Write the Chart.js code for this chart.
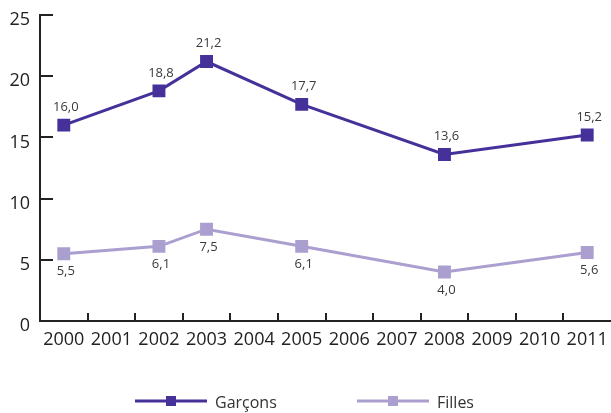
<!DOCTYPE html>
<html><head><meta charset="utf-8">
<script src="https://cdn.jsdelivr.net/npm/chart.js@4/dist/chart.umd.min.js"></script>
<style>html,body{margin:0;padding:0;background:#fff}#wrap{width:611px;height:413px}</style>
</head><body><div id="wrap"><canvas id="c" width="611" height="413"></canvas></div>
<script>
const years = ['2000','2001','2002','2003','2004','2005','2006','2007','2008','2009','2010','2011'];
const garcons = [16.0, null, 18.8, 21.2, null, 17.7, null, null, 13.6, null, null, 15.2];
const filles  = [5.5, null, 6.1, 7.5, null, 6.1, null, null, 4.0, null, null, 5.6];
const seriesNames = ['Garçons', 'Filles'];
const colors = ['#46309a', '#ab9fd0'];
const FONT = '"Open Sans", "Noto Sans", sans-serif';

const innerTicks = {
  id: 'innerTicks',
  afterDraw(chart){
    const ctx = chart.ctx, x = chart.scales.x, y = chart.scales.y, a = chart.chartArea;
    ctx.save();
    ctx.strokeStyle = '#222'; ctx.lineWidth = 2;
    y.ticks.forEach(t => {
      const py = Math.round(y.getPixelForValue(t.value));
      ctx.beginPath(); ctx.moveTo(a.left, py); ctx.lineTo(a.left + 13, py); ctx.stroke();
    });
    for (let i = 1; i < years.length; i++) {
      const px = Math.round((x.getPixelForTick(i-1) + x.getPixelForTick(i)) / 2);
      ctx.beginPath(); ctx.moveTo(px, a.bottom - 8); ctx.lineTo(px, a.bottom); ctx.stroke();
    }
    ctx.restore();
  }
};

const valueLabels = {
  id: 'valueLabels',
  afterDatasetsDraw(chart){
    const ctx = chart.ctx;
    ctx.save();
    ctx.font = '13px ' + FONT;
    ctx.fillStyle = '#3a3a3a';
    ctx.textAlign = 'center'; ctx.textBaseline = 'middle';
    chart.data.datasets.forEach((ds, di) => {
      const meta = chart.getDatasetMeta(di);
      meta.data.forEach((pt, i) => {
        const v = ds.data[i];
        if (v === null) return;
        const txt = v.toFixed(1).replace('.', ',');
        const dy = di === 0 ? -18 : 18;
        ctx.fillText(txt, pt.x + 2, pt.y + dy);
      });
    });
    ctx.restore();
  }
};

const legendStarts = [135, 357];
const customLegend = {
  id: 'customLegend',
  afterDraw(chart){
    const ctx = chart.ctx;
    ctx.save();
    ctx.font = '16px ' + FONT;
    const lineW = 72, gapT = 8;
    const yLine = 401, yText = 403;
    chart.data.datasets.forEach((d, i) => {
      const x = legendStarts[i];
      ctx.strokeStyle = d.borderColor; ctx.lineWidth = 3;
      ctx.beginPath(); ctx.moveTo(x, yLine); ctx.lineTo(x + lineW, yLine); ctx.stroke();
      ctx.fillStyle = d.borderColor;
      ctx.fillRect(x + lineW / 2 - 5, yLine - 5, 10, 10);
      ctx.fillStyle = '#333';
      ctx.textAlign = 'left'; ctx.textBaseline = 'middle';
      ctx.fillText(d.label, x + lineW + gapT, yText);
    });
    ctx.restore();
  }
};

new Chart(document.getElementById('c'), {
  type: 'line',
  data: {
    labels: years,
    datasets: [garcons, filles].map((d, i) => ({
      label: seriesNames[i],
      data: d,
      borderColor: colors[i],
      backgroundColor: colors[i],
      borderWidth: 3,
      pointStyle: 'rect',
      pointRadius: 7,
      pointHoverRadius: 7,
      spanGaps: true,
      tension: 0
    }))
  },
  options: {
    responsive: false,
    animation: false,
    layout: { autoPadding: false, padding: { top: 15, right: 0, left: 0, bottom: 52 } },
    scales: {
      x: {
        offset: true,
        grid: { display: true, color: 'rgba(0,0,0,0)', drawTicks: false, offset: true },
        border: { display: true, color: '#222', width: 2 },
        ticks: { color: '#222', padding: 8, font: { size: 18, family: FONT }, maxRotation: 0, autoSkip: false },
        afterFit(s){ s.height = 40; s.paddingLeft = 0; s.paddingRight = 0; }
      },
      y: {
        min: 0, max: 25,
        grid: { display: true, color: 'rgba(0,0,0,0)', drawTicks: false },
        border: { display: true, color: '#222', width: 2 },
        ticks: { stepSize: 5, color: '#222', padding: 10, labelOffset: 5, font: { size: 18, family: FONT } },
        afterFit(s){ s.width = 40; s.paddingTop = 0; s.paddingBottom = 0; }
      }
    },
    plugins: {
      tooltip: { enabled: false },
      legend: { display: false }
    }
  },
  plugins: [innerTicks, valueLabels, customLegend]
});
</script></body></html>
